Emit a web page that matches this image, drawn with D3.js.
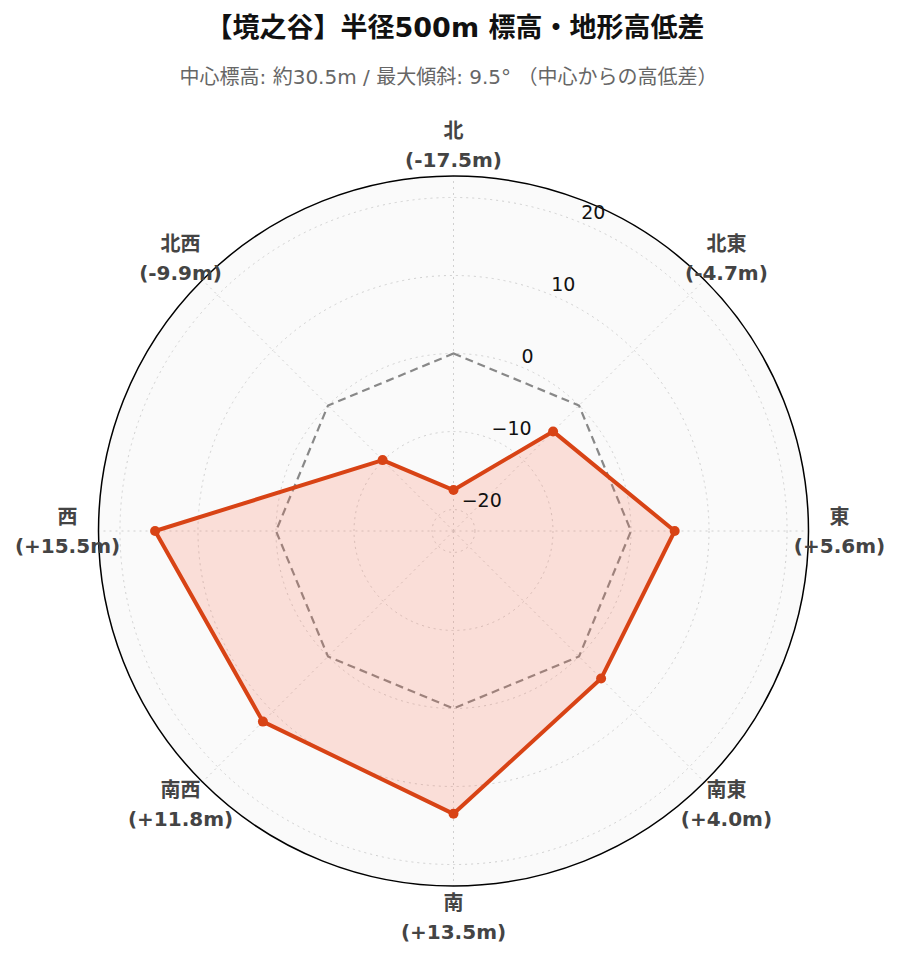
<!DOCTYPE html>
<html><head><meta charset="utf-8">
<script src="https://cdn.jsdelivr.net/npm/d3@7"></script>
<style>body{margin:0;background:#fff}</style>
</head><body>
<svg id="chart" width="900" height="962"></svg>
<script>
const titleText = "【境之谷】半径500m 標高・地形高低差";
const subtitleText = "中心標高: 約30.5m / 最大傾斜: 9.5° （中心からの高低差）";
const directions = ["北","北東","東","南東","南","南西","西","北西"];
const values = [-17.5, -4.7, 5.6, 4.0, 13.5, 11.8, 15.5, -9.9];
const referenceValues = [0, 0, 0, 0, 0, 0, 0, 0];
const radialTicks = [-20, -10, 0, 10, 20];
const radialDomain = [-22.75, 22.75];

const FONT = "'DejaVu Sans', 'Noto Sans CJK JP', sans-serif";
const svg = d3.select("#chart");
const cx = 453.5, cy = 531, R = 355;
const g = svg.append("g").attr("transform", `translate(${cx},${cy})`);

const r = d3.scaleLinear().domain(radialDomain).range([0, R]);
const ang = d3.scalePoint().domain(directions).range([0, 2*Math.PI*(directions.length-1)/directions.length]);
const px = (d, v) => r(v) * Math.sin(ang(d));
const py = (d, v) => -r(v) * Math.cos(ang(d));

// background
g.append("circle").attr("r", R).attr("fill", "#fafafa");

// grid circles
g.selectAll(".gc").data(radialTicks).join("circle")
  .attr("r", d => r(d)).attr("fill", "none")
  .attr("stroke", "#d0d0d0").attr("stroke-width", 1).attr("stroke-dasharray", "2,4");

// spokes
g.selectAll(".sp").data(directions).join("line")
  .attr("x1", 0).attr("y1", 0)
  .attr("x2", d => R*Math.sin(ang(d))).attr("y2", d => -R*Math.cos(ang(d)))
  .attr("stroke", "#d0d0d0").attr("stroke-width", 1).attr("stroke-dasharray", "2,4");

const line = d3.line().curve(d3.curveLinearClosed);

// reference polygon
g.append("path")
  .attr("d", line(directions.map((d,i) => [px(d, referenceValues[i]), py(d, referenceValues[i])])))
  .attr("fill", "none").attr("stroke", "#888").attr("stroke-width", 2.2).attr("stroke-dasharray", "8,5");

// data polygon
const pts = directions.map((d,i) => [px(d, values[i]), py(d, values[i])]);
g.append("path").attr("d", line(pts))
  .attr("fill", "rgba(252,110,80,0.2)").attr("stroke", "#d84315").attr("stroke-width", 4)
  .attr("stroke-linejoin", "round");
g.selectAll(".pt").data(pts).join("circle")
  .attr("cx", d => d[0]).attr("cy", d => d[1]).attr("r", 5).attr("fill", "#d84315");

// outer circle
g.append("circle").attr("r", R).attr("fill", "none").attr("stroke", "#000").attr("stroke-width", 1.5);

// radial tick labels
const tickAngle = Math.PI/8;
g.selectAll(".rt").data(radialTicks).join("text")
  .attr("x", d => r(d)*Math.sin(tickAngle))
  .attr("y", d => -r(d)*Math.cos(tickAngle) - 4)
  .attr("font-family", FONT).attr("font-size", 19).attr("fill", "#111")
  .text(d => d < 0 ? "\u2212" + Math.abs(d) : String(d));

// angular labels
const LR = 386;
const fmt = v => "(" + (v >= 0 ? "+" : "-") + Math.abs(v).toFixed(1) + "m)";
const al = g.selectAll(".al").data(directions).join("text")
  .attr("font-family", FONT).attr("font-size", 20)
  .attr("font-weight", "bold").attr("fill", "#444").attr("text-anchor", "middle");
al.append("tspan").attr("x", d => LR*Math.sin(ang(d))).attr("y", d => -LR*Math.cos(ang(d)) - 7)
  .text(d => d);
al.append("tspan").attr("x", d => LR*Math.sin(ang(d))).attr("y", d => -LR*Math.cos(ang(d)) + 22)
  .text((d,i) => fmt(values[i]));

// titles
svg.append("text").attr("x", 455).attr("y", 37).attr("text-anchor", "middle")
  .attr("font-family", FONT).attr("font-size", 27).attr("font-weight", "bold")
  .attr("fill", "#111").text(titleText);
svg.append("text").attr("x", 448.5).attr("y", 84).attr("text-anchor", "middle")
  .attr("font-family", FONT).attr("font-size", 20)
  .attr("fill", "#666").text(subtitleText);
</script>
</body></html>
